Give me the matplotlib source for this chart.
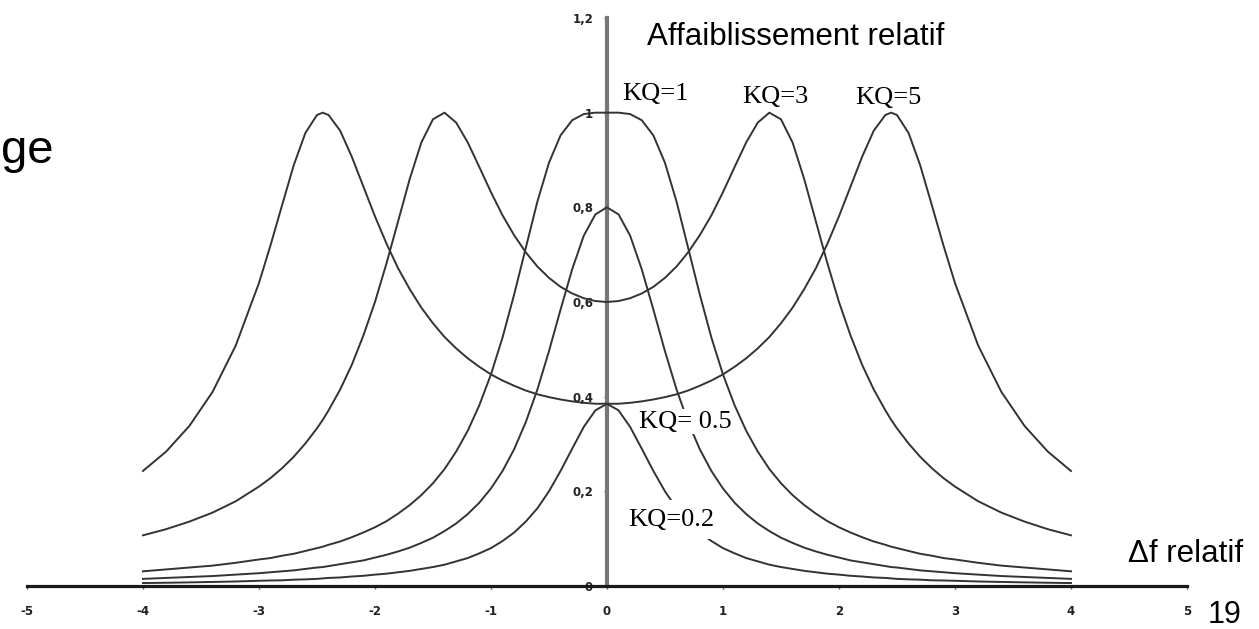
import matplotlib
matplotlib.use('Agg')
import matplotlib.pyplot as plt

# relative frequency offset
x = [-4.0, -3.8, -3.6, -3.4, -3.2, -3.0, -2.9, -2.8, -2.7, -2.6, -2.5, -2.45, -2.4,
     -2.3, -2.2, -2.1, -2.0, -1.9, -1.8, -1.7, -1.6, -1.5, -1.4, -1.3, -1.2, -1.1,
     -1.0, -0.9, -0.8, -0.7, -0.6, -0.5, -0.4, -0.3, -0.2, -0.1,
     0.0,
     0.1, 0.2, 0.3, 0.4, 0.5, 0.6, 0.7, 0.8, 0.9, 1.0, 1.1, 1.2, 1.3, 1.4, 1.5,
     1.6, 1.7, 1.8, 1.9, 2.0, 2.1, 2.2, 2.3, 2.4, 2.45, 2.5, 2.6, 2.7, 2.8, 2.9,
     3.0, 3.2, 3.4, 3.6, 3.8, 4.0]

kq02 = [0.0062, 0.0068, 0.0076, 0.0085, 0.0095, 0.011, 0.0116, 0.012, 0.0133, 0.014,
        0.015, 0.016, 0.017, 0.018, 0.020, 0.0215, 0.024, 0.026, 0.029, 0.032, 0.036,
        0.040, 0.045, 0.052, 0.059, 0.069, 0.080, 0.095, 0.113, 0.136, 0.164, 0.200,
        0.243, 0.290, 0.336, 0.371,
        0.385,
        0.371, 0.336, 0.290, 0.243, 0.200, 0.164, 0.136, 0.113, 0.095, 0.080, 0.069,
        0.059, 0.052, 0.045, 0.040, 0.036, 0.032, 0.029, 0.026, 0.024, 0.0215, 0.020,
        0.018, 0.017, 0.016, 0.015, 0.014, 0.0133, 0.012, 0.0116, 0.011, 0.0095,
        0.0085, 0.0076, 0.0068, 0.0062]

kq05 = [0.015, 0.017, 0.019, 0.021, 0.024, 0.027, 0.029, 0.031, 0.033, 0.036, 0.039,
        0.040, 0.042, 0.046, 0.050, 0.054, 0.060, 0.066, 0.073, 0.081, 0.091, 0.102,
        0.116, 0.132, 0.152, 0.176, 0.206, 0.243, 0.289, 0.346, 0.415, 0.496, 0.584,
        0.669, 0.740, 0.785,
        0.800,
        0.785, 0.740, 0.669, 0.584, 0.496, 0.415, 0.346, 0.289, 0.243, 0.206, 0.176,
        0.152, 0.132, 0.116, 0.102, 0.091, 0.081, 0.073, 0.066, 0.060, 0.054, 0.050,
        0.046, 0.042, 0.040, 0.039, 0.036, 0.033, 0.031, 0.029, 0.027, 0.024, 0.021,
        0.019, 0.017, 0.015]

kq1 = [0.031, 0.035, 0.039, 0.043, 0.049, 0.056, 0.059, 0.064, 0.068, 0.074, 0.080,
       0.083, 0.087, 0.094, 0.103, 0.113, 0.124, 0.137, 0.153, 0.171, 0.192, 0.217,
       0.247, 0.284, 0.328, 0.382, 0.447, 0.525, 0.616, 0.714, 0.812, 0.894, 0.952,
       0.984, 0.997, 1.000,
       1.000,
       1.000, 0.997, 0.984, 0.952, 0.894, 0.812, 0.714, 0.616, 0.525, 0.447, 0.382,
       0.328, 0.284, 0.247, 0.217, 0.192, 0.171, 0.153, 0.137, 0.124, 0.113, 0.103,
       0.094, 0.087, 0.083, 0.080, 0.074, 0.068, 0.064, 0.059, 0.056, 0.049, 0.043,
       0.039, 0.035, 0.031]

kq3 = [0.107, 0.120, 0.136, 0.155, 0.179, 0.210, 0.228, 0.249, 0.273, 0.301, 0.333,
       0.351, 0.371, 0.415, 0.467, 0.529, 0.600, 0.682, 0.771, 0.860, 0.937, 0.986,
       1.000, 0.979, 0.937, 0.885, 0.832, 0.783, 0.741, 0.705, 0.675, 0.651, 0.632,
       0.618, 0.608, 0.602,
       0.600,
       0.602, 0.608, 0.618, 0.632, 0.651, 0.675, 0.705, 0.741, 0.783, 0.832, 0.885,
       0.937, 0.979, 1.000, 0.986, 0.937, 0.860, 0.771, 0.682, 0.600, 0.529, 0.467,
       0.415, 0.371, 0.351, 0.333, 0.301, 0.273, 0.249, 0.228, 0.210, 0.179, 0.155,
       0.136, 0.120, 0.107]

kq5 = [0.243, 0.284, 0.338, 0.410, 0.508, 0.640, 0.720, 0.805, 0.889, 0.957, 0.995,
       1.000, 0.995, 0.962, 0.907, 0.844, 0.781, 0.723, 0.671, 0.627, 0.588, 0.555,
       0.526, 0.502, 0.481, 0.463, 0.447, 0.434, 0.423, 0.413, 0.405, 0.399, 0.394,
       0.390, 0.387, 0.385,
       0.385,
       0.385, 0.387, 0.390, 0.394, 0.399, 0.405, 0.413, 0.423, 0.434, 0.447, 0.463,
       0.481, 0.502, 0.526, 0.555, 0.588, 0.627, 0.671, 0.723, 0.781, 0.844, 0.907,
       0.962, 0.995, 1.000, 0.995, 0.957, 0.889, 0.805, 0.720, 0.640, 0.508, 0.410,
       0.338, 0.284, 0.243]

xticks = [-5, -4, -3, -2, -1, 0, 1, 2, 3, 4, 5]
yticks = [0, 0.2, 0.4, 0.6, 0.8, 1.0, 1.2]
ytick_labels = ['0', '0,2', '0,4', '0,6', '0,8', '1', '1,2']

fig = plt.figure(figsize=(12.59, 6.29), dpi=100)
ax = fig.add_axes([0.0214, 0.0684, 0.9214, 0.903])

for y in [kq02, kq05, kq1, kq3, kq5]:
    ax.plot(x, y, color='#333333', lw=1.4, zorder=3, solid_joinstyle='round')

ax.set_xlim(-5, 5)
ax.set_ylim(0, 1.2)
ax.spines['top'].set_visible(False)
ax.spines['right'].set_visible(False)
ax.spines['left'].set_position(('data', 0))
ax.spines['left'].set_color('#777777')
ax.spines['left'].set_linewidth(3)
ax.spines['bottom'].set_color('#1a1a1a')
ax.spines['bottom'].set_linewidth(2.3)

ax.set_xticks(xticks)
ax.set_xticklabels([str(t) for t in xticks])
ax.set_yticks(yticks)
ax.set_yticklabels(ytick_labels)
ax.tick_params(axis='x', length=2, width=1, pad=12, labelsize=8.5,
               labelcolor='#222222', color='#555555')
ax.tick_params(axis='y', length=2, width=1, pad=8, labelsize=8.5,
               labelcolor='#222222', color='#555555')
for lab in ax.get_xticklabels() + ax.get_yticklabels():
    lab.set_fontweight('bold')

serif = 'Liberation Serif'
ax.text(0.13, 1.04, 'KQ=1', family=serif, fontsize=19, va='center', ha='left')
ax.text(1.17, 1.034, 'KQ=3', family=serif, fontsize=19, va='center', ha='left')
ax.text(2.14, 1.03, 'KQ=5', family=serif, fontsize=19, va='center', ha='left')
ax.text(0.28, 0.347, 'KQ= 0.5', family=serif, fontsize=19, va='center', ha='left',
        zorder=5, bbox=dict(facecolor='white', edgecolor='none', pad=1))
ax.text(0.18, 0.14, 'KQ=0.2', family=serif, fontsize=19, va='center', ha='left',
        zorder=5, bbox=dict(facecolor='white', edgecolor='none', pad=6))

sans = 'Liberation Sans'
fig.text(0.514, 0.928, 'Affaiblissement relatif', family=sans, fontsize=22.5,
         va='baseline', ha='left')
fig.text(0.896, 0.1065, 'Δf relatif', family=sans, fontsize=22.5,
         va='baseline', ha='left')
fig.text(0.9595, 0.0095, '19', family=sans, fontsize=22, va='baseline', ha='left')
fig.text(0.001, 0.741, 'ge', family=sans, fontsize=34, va='baseline', ha='left')

fig.savefig('out.png', dpi=100)
